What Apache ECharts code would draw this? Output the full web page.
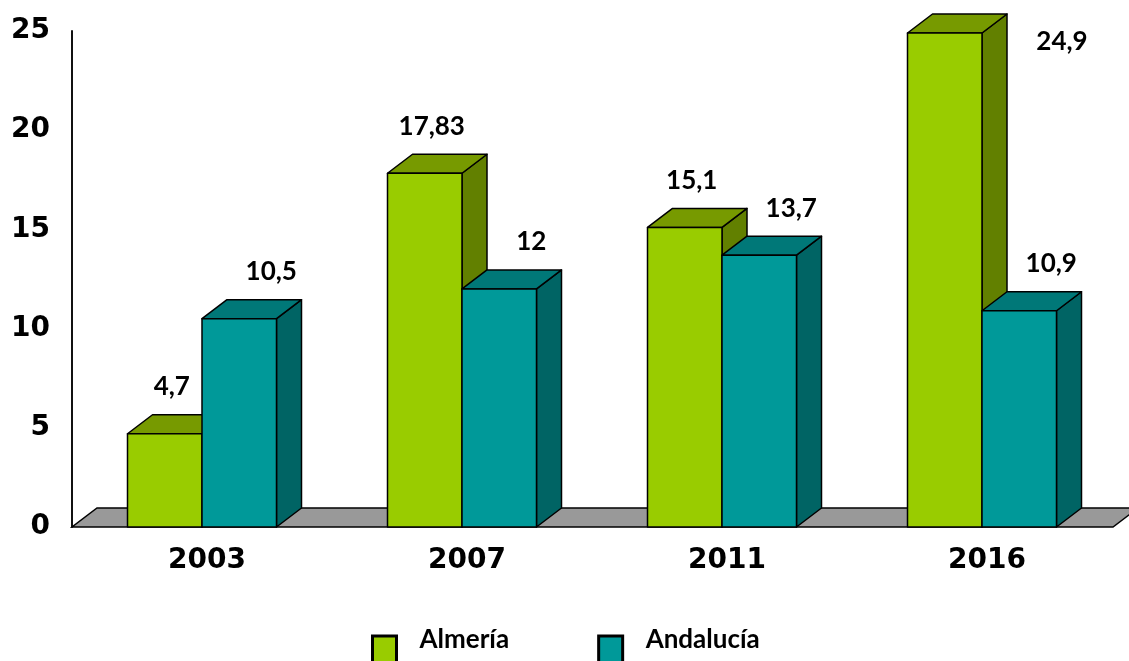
<!DOCTYPE html>
<html>
<head>
<meta charset="utf-8">
<script src="https://cdn.jsdelivr.net/npm/echarts@6/dist/echarts.min.js"></script>
<style>
  html, body { margin: 0; padding: 0; background: #fff; }
  #main { width: 1129px; height: 661px; }
</style>
</head>
<body>
<div id="main"></div>
<script>
// data
var years = ['2003', '2007', '2011', '2016'];
var almeria = [4.7, 17.83, 15.1, 24.9];
var andalucia = [10.5, 12, 13.7, 10.9];
var yMax = 25;
var yStep = 5;

// look of the fake 3d bars
var BAR_RATIO = 74.5 / 260;
var DEPTH_X = 25;
var DEPTH_Y = 19;
var LINE = '#000';

var green = { front: '#99CC00', top: '#779A00', side: '#628000' };
var teal = { front: '#009999', top: '#007878', side: '#006464' };

function fmt(v) {
    return String(v).replace('.', ',');
}

function barRenderer(side, colors, labelDx) {
    return function (params, api) {
        var idx = api.value(0);
        var val = api.value(1);
        var top = api.coord([idx, val]);
        var base = api.coord([idx, 0]);
        var bw = api.size([1, 0])[0] * BAR_RATIO;
        var x0 = side === 0 ? top[0] - bw : top[0];
        var x1 = x0 + bw;
        var yt = top[1], yb = base[1];
        var st = { stroke: LINE, lineWidth: 1.5, lineJoin: 'round' };

        var lx = (x0 + x1) / 2 + labelDx;
        var ly = yt - 47;
        // no room above -> put the label to the right, like the original
        if (ly < params.coordSys.y) {
            lx = x1 + DEPTH_X + 55;
            ly = yt + 9;
        }

        return {
            type: 'group',
            children: [
                {
                    type: 'polygon',
                    shape: { points: [[x1, yb], [x1, yt], [x1 + DEPTH_X, yt - DEPTH_Y], [x1 + DEPTH_X, yb - DEPTH_Y]] },
                    style: Object.assign({ fill: colors.side }, st)
                },
                {
                    type: 'polygon',
                    shape: { points: [[x0, yt], [x1, yt], [x1 + DEPTH_X, yt - DEPTH_Y], [x0 + DEPTH_X, yt - DEPTH_Y]] },
                    style: Object.assign({ fill: colors.top }, st)
                },
                {
                    type: 'rect',
                    shape: { x: x0, y: yt, width: bw, height: yb - yt },
                    style: Object.assign({ fill: colors.front }, st)
                },
                {
                    type: 'text',
                    z2: 50,
                    style: {
                        text: fmt(val),
                        x: lx,
                        y: ly,
                        align: 'center',
                        verticalAlign: 'middle',
                        fill: '#000',
                        font: 'bold 26px Lato'
                    }
                }
            ]
        };
    };
}

function floorRenderer(params, api) {
    var cs = params.coordSys;
    var y0 = api.coord([0, 0])[1];
    var xl = cs.x, xr = cs.x + cs.width + 1;
    return {
        type: 'polygon',
        shape: { points: [[xl, y0], [xr, y0], [xr + DEPTH_X, y0 - DEPTH_Y], [xl + DEPTH_X, y0 - DEPTH_Y]] },
        style: { fill: '#999999', stroke: LINE, lineWidth: 1.5 }
    };
}

var myChart = echarts.init(document.getElementById('main'));

var option = {
    animation: false,
    backgroundColor: '#fff',
    grid: { left: 72, right: 17, top: 31, bottom: 134 },
    legend: {
        left: 366,
        top: 622,
        icon: 'rect',
        itemWidth: 24,
        itemHeight: 28,
        itemGap: 88,
        selectedMode: false,
        formatter: '{n|{name}}',
        textStyle: {
            padding: [0, 0, 0, 18],
            rich: {
                n: {
                    fontFamily: 'Lato',
                    fontWeight: 'bold',
                    fontSize: 26,
                    color: '#000',
                    lineHeight: 46,
                    verticalAlign: 'top'
                }
            }
        },
        data: [
            { name: 'Almería', itemStyle: { color: green.front, borderColor: '#000', borderWidth: 3 } },
            { name: 'Andalucía', itemStyle: { color: teal.front, borderColor: '#000', borderWidth: 3 } }
        ]
    },
    xAxis: {
        type: 'category',
        data: years,
        axisLine: { show: false },
        axisTick: { show: false },
        axisLabel: {
            margin: 20,
            fontFamily: 'DejaVu Sans',
            fontWeight: 'bold',
            fontSize: 28,
            color: '#000',
            padding: [0, 0, 0, 10]
        }
    },
    yAxis: {
        type: 'value',
        min: 0,
        max: yMax,
        interval: yStep,
        splitLine: { show: false },
        axisTick: { show: false },
        axisLine: { show: true, lineStyle: { color: '#111', width: 2 } },
        axisLabel: {
            margin: 22,
            fontFamily: 'DejaVu Sans',
            fontWeight: 'bold',
            fontSize: 28,
            color: '#000'
        }
    },
    series: [
        {
            name: 'floor',
            type: 'custom',
            renderItem: floorRenderer,
            data: [[0, 0]],
            z: 1,
            silent: true
        },
        {
            name: 'Almería',
            type: 'custom',
            renderItem: barRenderer(0, green, 7),
            itemStyle: { color: green.front },
            encode: { x: 0, y: 1 },
            data: almeria.map(function (v, i) { return [i, v]; }),
            z: 2
        },
        {
            name: 'Andalucía',
            type: 'custom',
            renderItem: barRenderer(1, teal, 32),
            itemStyle: { color: teal.front },
            encode: { x: 0, y: 1 },
            data: andalucia.map(function (v, i) { return [i, v]; }),
            z: 3
        }
    ]
};

myChart.setOption(option);
</script>
</body>
</html>
